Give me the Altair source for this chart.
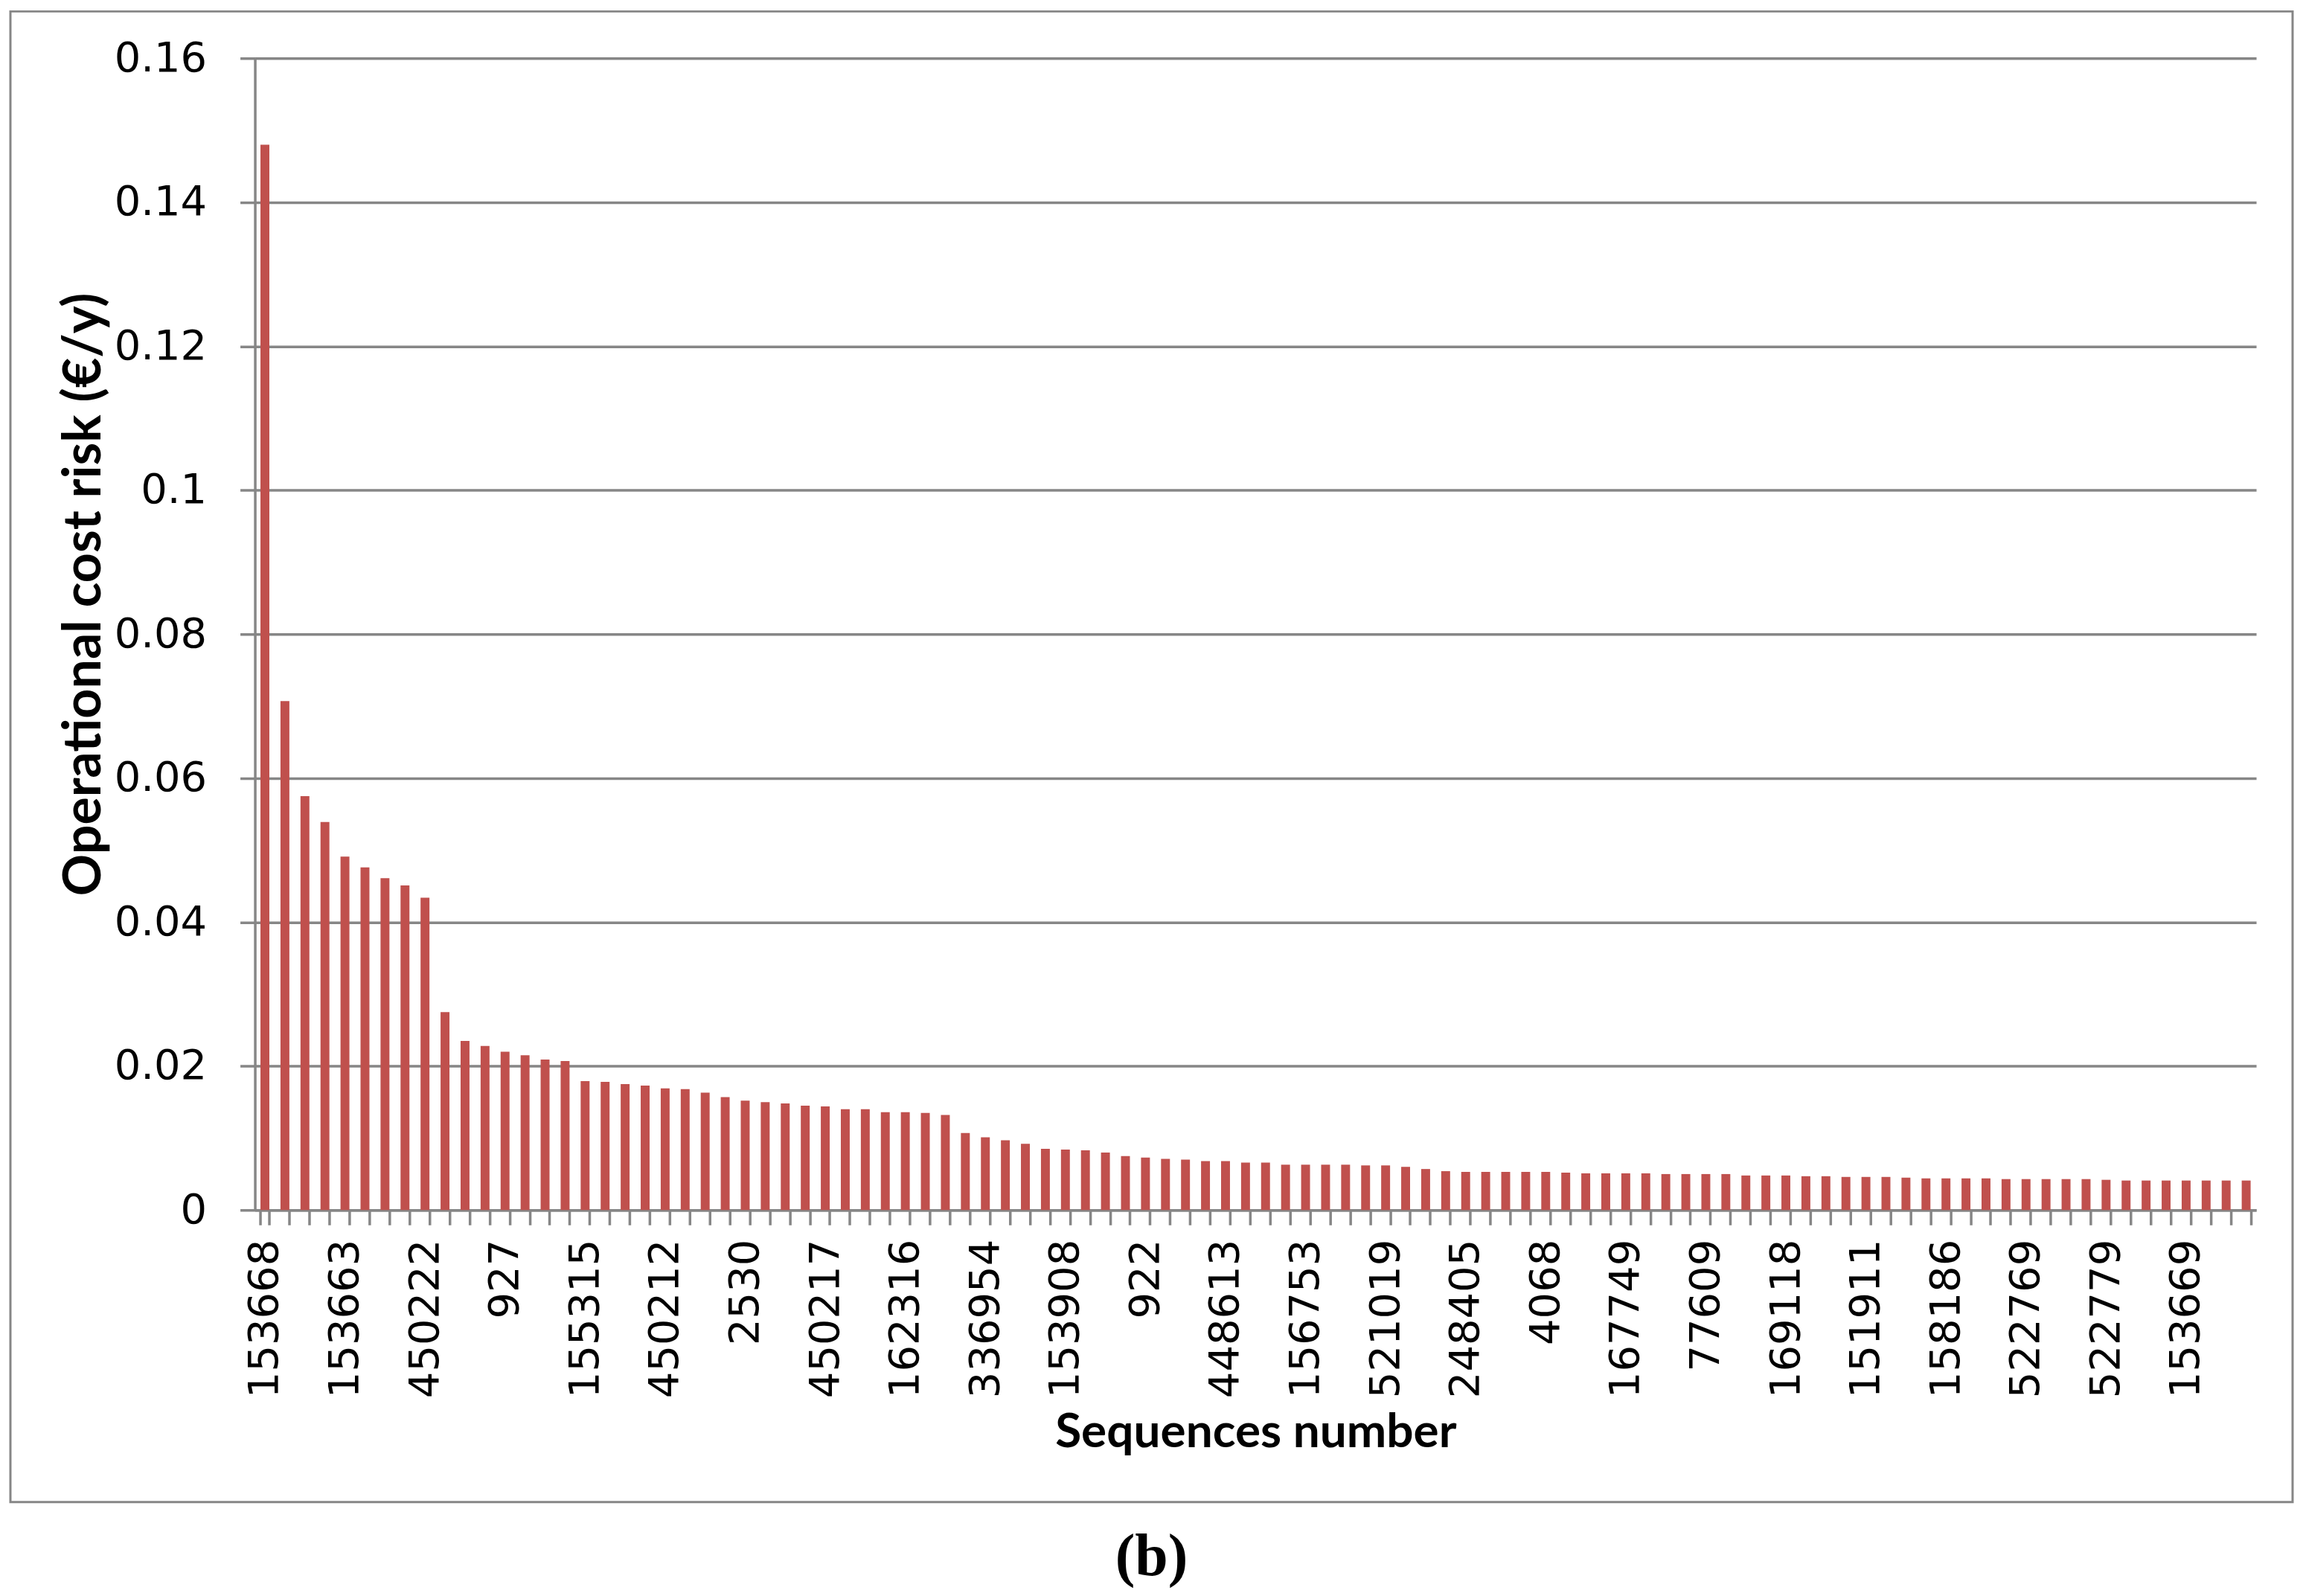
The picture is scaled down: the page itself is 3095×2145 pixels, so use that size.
import altair as alt
import pandas as pd

# Operational cost risk per sequence (sorted descending)
risk_values = [
    0.1480, 0.0707, 0.0575, 0.0539, 0.0491, 0.0476, 0.0461, 0.0451, 0.0434, 0.0275,
    0.0235, 0.0228, 0.0220, 0.0215, 0.0209, 0.0207, 0.0179, 0.0178, 0.0175, 0.0173,
    0.0169, 0.0168, 0.0163, 0.0157, 0.0152, 0.0150, 0.0148, 0.0145, 0.0144, 0.0140,
    0.0140, 0.0136, 0.0136, 0.0135, 0.0132, 0.0107, 0.0101, 0.0097, 0.0092, 0.0085,
    0.0084, 0.0083, 0.0080, 0.0075, 0.0073, 0.0071, 0.0070, 0.0068, 0.0068, 0.0066,
    0.0066, 0.0063, 0.0063, 0.0063, 0.0063, 0.0062, 0.0062, 0.0060, 0.0057, 0.0054,
    0.0053, 0.0053, 0.0053, 0.0053, 0.0053, 0.0052, 0.0051, 0.0051, 0.0051, 0.0051,
    0.0050, 0.0050, 0.0050, 0.0050, 0.0048, 0.0048, 0.0048, 0.0047, 0.0047, 0.0046,
    0.0046, 0.0046, 0.0045, 0.0044, 0.0044, 0.0044, 0.0044, 0.0043, 0.0043, 0.0043,
    0.0043, 0.0043, 0.0042, 0.0041, 0.0041, 0.0041, 0.0041, 0.0041, 0.0041, 0.0041,
]

# Sequence numbers shown on the axis (every 4th bar)
tick_labels = [
    "153668", "153663", "450222", "927", "155315", "450212", "2530", "450217",
    "162316", "336954", "153908", "922", "448613", "156753", "521019", "248405",
    "4068", "167749", "77609", "169118", "151911", "158186", "522769", "522779",
    "153669",
]
label_step = 4

y_ticks = [0, 0.02, 0.04, 0.06, 0.08, 0.10, 0.12, 0.14, 0.16]

df = pd.DataFrame({"idx": list(range(len(risk_values))), "risk": risk_values})

label_array = "[" + ",".join("'%s'" % s for s in tick_labels) + "]"
label_expr = "datum.value %% %d == 0 ? %s[datum.value / %d] : ''" % (label_step, label_array, label_step)

W, H = 2693, 1550
GRAY = "#868686"
TITLE_FONT = "Lato"

bars = alt.Chart(df).mark_bar(color="#C0504D").encode(
    x=alt.X(
        "idx:O",
        title="Sequences number",
        scale=alt.Scale(paddingInner=0.555, paddingOuter=0.2775),
        axis=alt.Axis(
            labelExpr=label_expr,
            labelAngle=270,
            labelFont="DejaVu Sans",
            labelFontSize=56,
            labelColor="black",
            labelPadding=19,
            labelLimit=0,
            labelOverlap=False,
            tickBand="extent",
            tickSize=20,
            grid=False,
            titleFont=TITLE_FONT,
            titleFontWeight="bold",
            titleFontSize=64,
            titleColor="black",
            titleBaseline="middle",
            titleY=300,
        ),
    ),
    y=alt.Y(
        "risk:Q",
        title="Operational cost risk (€/y)",
        scale=alt.Scale(domain=[0, 0.16], nice=False),
        axis=alt.Axis(
            values=y_ticks,
            format="~g",
            labelFont="DejaVu Sans",
            labelFontSize=56,
            labelColor="black",
            labelPadding=45,
            tickSize=20,
            grid=True,
            titleFont=TITLE_FONT,
            titleFontWeight="bold",
            titleFontSize=70,
            titleColor="black",
            titlePadding=4,
            titleY=721,
        ),
    ),
)

frame = alt.Chart(pd.DataFrame({"a": [0]})).mark_rect(
    fillOpacity=0, stroke=GRAY, strokeWidth=3
).encode(
    x=alt.value(-329), x2=alt.value(W + 49), y=alt.value(-63), y2=alt.value(H + 393)
)

chart = alt.layer(frame, bars).properties(
    width=W,
    height=H,
    padding=4,
    title=alt.TitleParams(
        "(b)",
        orient="bottom",
        anchor="middle",
        frame="bounds",
        font="Liberation Serif",
        fontSize=80,
        fontWeight="bold",
        color="black",
        offset=34,
    ),
).configure_view(strokeWidth=0).configure_axis(
    domainColor=GRAY,
    domainWidth=3.5,
    tickColor=GRAY,
    tickWidth=3.5,
    gridColor=GRAY,
    gridWidth=3.5,
)

chart.save("out.html", embed_options={"renderer": "svg", "actions": False})
